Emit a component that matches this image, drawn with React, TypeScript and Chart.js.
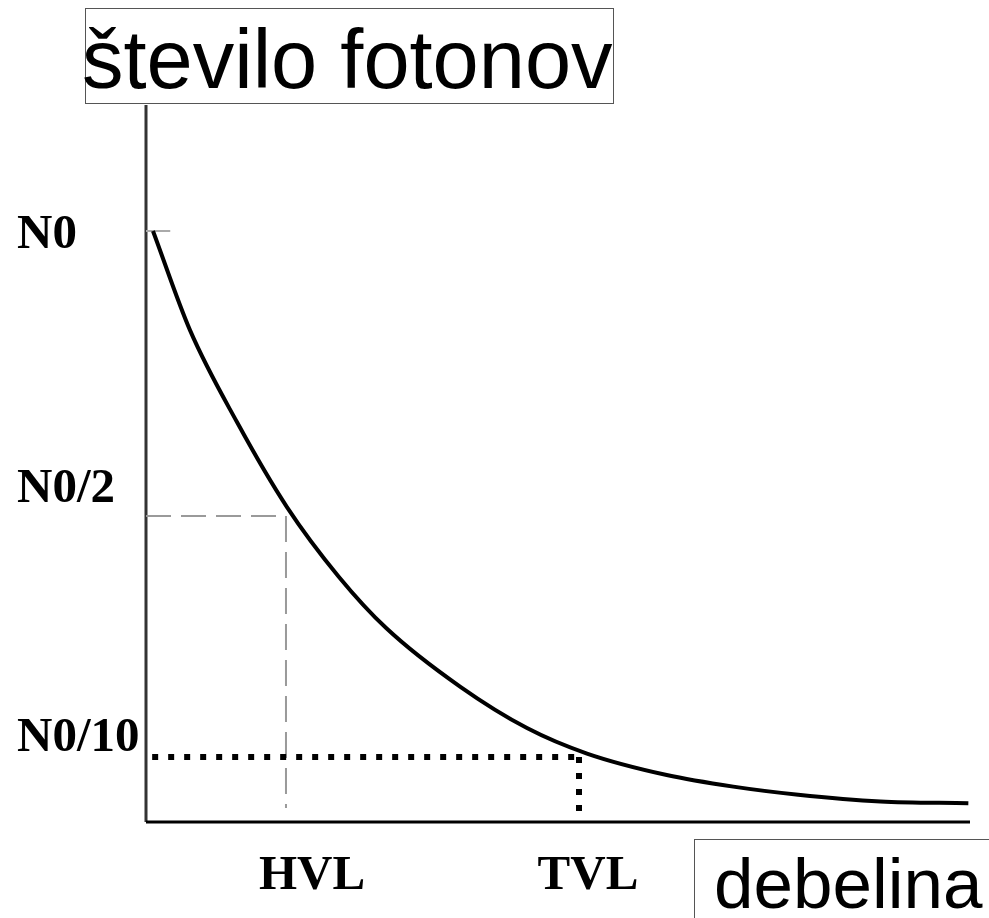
import React, { useEffect, useRef } from 'react';
import { Chart, registerables } from 'chart.js';

Chart.register(...registerables);

// ---- data ----
const thickness = [0.06, 0.51, 1.08, 1.69, 2.32, 2.9, 3.8, 4.61, 5.34, 6.31, 7.12, 7.91, 8.91, 9.98];
const photons = [100, 82.9, 67.1, 52.4, 40.4, 31.5, 21.4, 14.3, 9.9, 6.2, 4.2, 2.8, 1.64, 1.33];

const yTickLabels = ['N0', 'N0/2', 'N0/10'];
const yLevels = [100, 50.86, 9.3];
const xTickLabels = ['HVL', 'TVL'];
const xLevels = [1.678, 5.243];

const titleText = 'število fotonov';
const xAxisText = 'debelina';

const X_MIN = -0.025, X_MAX = 10;
const Y_MIN = -1.9, Y_MAX = 121.72;

const labelPlugin = {
  id: 'labelPlugin',
  afterDraw(chart: any) {
    const ctx = chart.ctx as CanvasRenderingContext2D;
    const xs = chart.scales.x;
    const ys = chart.scales.y;
    ctx.save();
    // title box
    ctx.strokeStyle = '#555';
    ctx.lineWidth = 1;
    ctx.strokeRect(85.5, 8.5, 528, 95);
    ctx.fillStyle = '#000';
    ctx.font = '83px "Liberation Sans", Arial, sans-serif';
    ctx.textBaseline = 'alphabetic';
    ctx.textAlign = 'left';
    ctx.fillText(titleText, 82, 88);

    // x-axis title box
    ctx.strokeRect(694.5, 839.5, 320, 100);
    ctx.font = '71px "Liberation Sans", Arial, sans-serif';
    ctx.fillText(xAxisText, 714, 908);

    // y tick labels
    ctx.font = 'bold 49px "Liberation Serif", "Times New Roman", serif';
    const yOff = [17, -14, -6];
    yTickLabels.forEach((t, i) => {
      ctx.textAlign = 'left';
      ctx.fillText(t, 17, ys.getPixelForValue(yLevels[i]) + yOff[i]);
    });
    // x tick labels
    const xOff = [26, 9];
    xTickLabels.forEach((t, i) => {
      ctx.textAlign = 'center';
      ctx.fillText(t, xs.getPixelForValue(xLevels[i]) + xOff[i], 889);
    });
    ctx.restore();
  },
};

export default function App() {
  const ref = useRef<HTMLCanvasElement>(null);
  useEffect(() => {
    if (!ref.current) return;
    const curve = thickness.map((x, i) => ({ x, y: photons[i] }));
    const chart = new Chart(ref.current, {
      type: 'line',
      data: {
        datasets: [
          {
            label: 'curve',
            data: curve,
            borderColor: '#000',
            borderWidth: 4,
            pointRadius: 0,
            cubicInterpolationMode: 'monotone',
            fill: false,
          },
          {
            label: 'N0/10 horizontal',
            data: [{ x: 0.05, y: yLevels[2] }, { x: xLevels[1], y: yLevels[2] }],
            borderColor: '#000',
            borderWidth: 6,
            borderDash: [6, 10],
            pointRadius: 0,
          },
          {
            label: 'TVL vertical',
            data: [{ x: xLevels[1], y: yLevels[2] }, { x: xLevels[1], y: Y_MIN }],
            borderColor: '#000',
            borderWidth: 6,
            borderDash: [6, 10],
            pointRadius: 0,
          },
          {
            label: 'N0/2 horizontal',
            data: [{ x: X_MIN, y: yLevels[1] }, { x: xLevels[0], y: yLevels[1] }],
            borderColor: '#9a9a9a',
            borderWidth: 2,
            borderDash: [25, 10],
            pointRadius: 0,
            clip: false,
          },
          {
            label: 'N0/2 tick',
            data: [{ x: X_MIN, y: yLevels[1] }, { x: 0.24, y: yLevels[1] }],
            borderColor: '#000',
            borderWidth: 2,
            pointRadius: 0,
            clip: false,
          },
          {
            label: 'HVL vertical',
            data: [{ x: xLevels[0], y: yLevels[1] }, { x: xLevels[0], y: 0.5 }],
            borderColor: '#9a9a9a',
            borderWidth: 2,
            borderDash: [26, 10],
            pointRadius: 0,
          },
          {
            label: 'N0 tick',
            data: [{ x: X_MIN, y: yLevels[0] }, { x: 0.27, y: yLevels[0] }],
            borderColor: '#aaaaaa',
            borderWidth: 2,
            pointRadius: 0,
            clip: false,
          },
          {
            label: 'x axis',
            data: [{ x: X_MIN, y: Y_MIN }, { x: X_MAX, y: Y_MIN }],
            borderColor: '#000',
            borderWidth: 3,
            pointRadius: 0,
            clip: false,
          },
          {
            label: 'y axis',
            data: [{ x: X_MIN, y: Y_MIN }, { x: X_MIN, y: Y_MAX }],
            borderColor: '#333',
            borderWidth: 3,
            pointRadius: 0,
            clip: false,
          },
        ],
      },
      options: {
        animation: false,
        responsive: false,
        events: [],
        layout: { padding: { left: 146, right: 19, top: 105, bottom: 96 } },
        plugins: { legend: { display: false }, tooltip: { enabled: false }, title: { display: false } },
        scales: {
          x: { type: 'linear', min: X_MIN, max: X_MAX, display: false },
          y: { type: 'linear', min: Y_MIN, max: Y_MAX, display: false },
        },
      },
      plugins: [labelPlugin],
    } as any);
    return () => chart.destroy();
  }, []);

  return (
    <div style={{ position: 'absolute', left: 0, top: 0, width: 989, height: 918, background: '#fff' }}>
      <canvas ref={ref} width={989} height={918} style={{ width: 989, height: 918, display: 'block' }} />
    </div>
  );
}
